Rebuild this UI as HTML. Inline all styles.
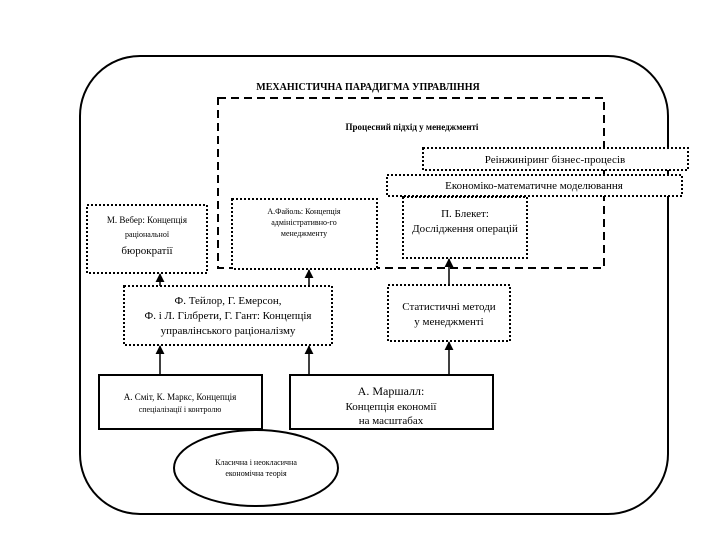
<!DOCTYPE html><html><head><meta charset="utf-8"><style>body{margin:0;background:#fff}</style></head><body>
<svg width="720" height="540" xmlns="http://www.w3.org/2000/svg" font-family="Liberation Serif, serif" fill="none" stroke="#000">
<defs><marker id="a" viewBox="0 0 10 10" refX="9" refY="5" markerWidth="6" markerHeight="6" orient="auto"><path d="M0,0L10,5L0,10z" fill="#000" stroke="none"/></marker></defs>
<rect x="80" y="56" width="588" height="458" rx="60" stroke-width="2"/>
<rect x="218" y="98" width="386" height="170" stroke-width="2" stroke-dasharray="8,5"/>
<g stroke-width="2" stroke-dasharray="2,2" fill="#fff">
<rect x="423" y="148" width="265" height="22"/>
<rect x="387" y="175" width="295" height="21"/>
<rect x="87" y="205" width="120" height="68"/>
<rect x="232" y="199" width="145" height="70"/>
<rect x="403" y="197" width="124" height="61"/>
<rect x="124" y="286" width="208" height="59"/>
<rect x="388" y="285" width="122" height="56"/>
</g>
<rect x="99" y="375" width="163" height="54" stroke-width="2" fill="#fff"/>
<rect x="290" y="375" width="203" height="54" stroke-width="2" fill="#fff"/>
<ellipse cx="256" cy="468" rx="82" ry="38" stroke-width="2" fill="#fff"/>
<g stroke-width="1.5" marker-end="url(#a)">
<line x1="160" y1="286" x2="160" y2="274"/>
<line x1="309" y1="286" x2="309" y2="270"/>
<line x1="449" y1="285" x2="449" y2="259"/>
<line x1="160" y1="375" x2="160" y2="346"/>
<line x1="309" y1="375" x2="309" y2="346"/>
<line x1="449" y1="375" x2="449" y2="342"/>
</g>
<g fill="#000" stroke="none" text-anchor="middle">
<text x="368" y="90" font-size="10" font-weight="bold">МЕХАНІСТИЧНА ПАРАДИГМА УПРАВЛІННЯ</text>
<text x="412" y="130" font-size="9" font-weight="bold">Процесний підхід у менеджменті</text>
<text x="555" y="163" font-size="11">Реінжиніринг бізнес-процесів</text>
<text x="534" y="189" font-size="11">Економіко-математичне моделювання</text>
<text x="147" y="223" font-size="9">М. Вебер: Концепція</text>
<text x="147" y="237" font-size="8">раціональної</text>
<text x="147" y="254" font-size="11">бюрократії</text>
<text x="304" y="214" font-size="8">А.Файоль: Концепція</text>
<text x="304" y="225" font-size="8">адміністративно-го</text>
<text x="304" y="236" font-size="8">менеджменту</text>
<text x="465" y="217" font-size="11">П. Блекет:</text>
<text x="465" y="232" font-size="11">Дослідження операцій</text>
<text x="228" y="304" font-size="11">Ф. Тейлор, Г. Емерсон,</text>
<text x="228" y="319" font-size="11">Ф. і Л. Гілбрети, Г. Гант: Концепція</text>
<text x="228" y="334" font-size="11">управлінського раціоналізму</text>
<text x="449" y="310" font-size="11">Статистичні методи</text>
<text x="449" y="325" font-size="11">у менеджменті</text>
<text x="180" y="400" font-size="9">А. Сміт, К. Маркс, Концепція</text>
<text x="180" y="412" font-size="8">спеціалізації і контролю</text>
<text x="391" y="395" font-size="12">А. Маршалл:</text>
<text x="391" y="410" font-size="11">Концепція економії</text>
<text x="391" y="424" font-size="11">на масштабах</text>
<text x="256" y="465" font-size="8">Класична і неокласична</text>
<text x="256" y="476" font-size="8">економічна теорія</text>
</g>
</svg></body></html>
